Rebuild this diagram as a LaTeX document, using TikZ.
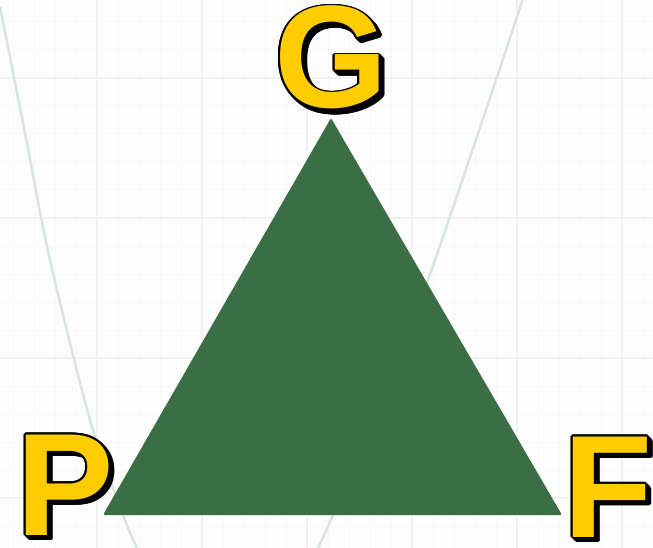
\documentclass[tikz,border=0pt]{standalone}
\usepackage{fontspec}
\setmainfont{Liberation Sans}
\definecolor{bgc}{HTML}{FDFDFD}
\definecolor{minorgrid}{HTML}{F8F8F8}
\definecolor{majorgrid}{HTML}{F1F1F1}
\definecolor{curvec}{HTML}{D5E8D5}
\definecolor{trig}{HTML}{3C6E45}
\definecolor{gold}{HTML}{FFCC00}
\tikzset{
  letter/.style={font=\fontsize{146}{146}\selectfont\bfseries, inner sep=0pt, anchor=base},
  minorline/.style={draw=minorgrid, line width=1pt},
  majorline/.style={draw=majorgrid, line width=1.2pt},
  curveline/.style={draw=curvec, line width=2.5pt},
}
\newcommand\outlinedletter[3]{%
  \foreach \d in {0,1,2,3,4}{%
    \foreach \a in {0,30,...,330}{%
      \node[letter,text=black] at ([shift={(\a:1.8pt)},shift={(\d,\d)}]#2) {#3};
    }%
  }%
  \node[letter,text=gold] (#1) at (#2) {#3};
}
\begin{document}
\begin{tikzpicture}[x=1pt,y=-1pt]
\useasboundingbox (0,0) rectangle (653,548);
\fill[bgc] (0,0) rectangle (653,548);
% grid
\foreach \x in {13,34,...,653}{\draw[minorline] (\x,0) -- (\x,548);}
\foreach \y in {22,50,...,548}{\draw[minorline] (0,\y) -- (653,\y);}
\foreach \x in {97,202,307,412,517,622}{\draw[majorline] (\x,0) -- (\x,548);}
\foreach \y in {78,218,358,498}{\draw[majorline] (0,\y) -- (653,\y);}
% faint curves
\draw[curveline] plot[smooth] coordinates {(0,7) (25,133) (50,260) (90,420) (123,515) (138,550)};
\draw[curveline] plot[smooth] coordinates {(523,-2) (497,77) (428,280) (382,398) (333,515) (317,550)};
% triangle
\fill[trig, rounded corners=2pt] (331,118) -- (562,515) -- (103,515) -- cycle;
% letters
\outlinedletter{G}{331,108}{G}
\outlinedletter{P}{65,535}{P}
\outlinedletter{F}{608,537}{F}
\end{tikzpicture}
\end{document}
